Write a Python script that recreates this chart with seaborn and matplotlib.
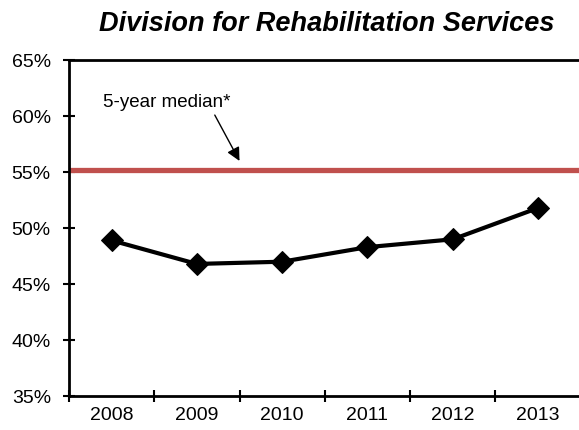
import numpy as np
import pandas as pd
import matplotlib.pyplot as plt
import seaborn as sns
from matplotlib.ticker import FixedLocator, PercentFormatter

# data
years = ['2008', '2009', '2010', '2011', '2012', '2013']
rates = [48.9, 46.8, 47.0, 48.3, 49.0, 51.8]
median_5yr = 55.2

df = pd.DataFrame({'year': years, 'rate': rates})

sns.set_style('white')
plt.rcParams['font.family'] = ['Liberation Sans', 'DejaVu Sans']
plt.rcParams['text.color'] = 'black'
plt.rcParams['xtick.color'] = 'black'
plt.rcParams['ytick.color'] = 'black'

fig = plt.figure(figsize=(5.79, 4.30), dpi=100)
ax = fig.add_axes([0.119, 0.079, 0.884, 0.781])

# median reference line
ax.axhline(median_5yr, color='#C0504D', lw=3.8, zorder=2)

sns.lineplot(data=df, x='year', y='rate', ax=ax, color='black', lw=3,
             marker='D', markersize=11, markeredgecolor='black', zorder=3)

ax.set_xlim(-0.5, len(years) - 0.5)
ax.set_ylim(35, 65)
ax.set_yticks(np.arange(35, 66, 5))
ax.yaxis.set_major_formatter(PercentFormatter(decimals=0))
ax.set_xticks(range(len(years)))
ax.set_xticklabels(years)
ax.xaxis.set_minor_locator(FixedLocator(np.arange(-0.5, len(years), 1)))
ax.tick_params(axis='x', which='major', length=0, labelsize=14, pad=8)
ax.tick_params(axis='x', which='minor', direction='inout', length=8, width=1.5, color='black', bottom=True)
ax.tick_params(axis='y', direction='inout', length=8, width=1.5, color='black', labelsize=14, left=True, pad=9)
ax.set_xlabel('')
ax.set_ylabel('')

for side in ['left', 'bottom', 'top', 'right']:
    ax.spines[side].set_color('black')
    ax.spines[side].set_linewidth(2)

ax.text(-0.1, 61.25, '5-year median*', fontsize=13.5, ha='left', va='center')
ax.annotate('', xy=(1.5, 56.0), xytext=(1.21, 60.1),
            arrowprops=dict(arrowstyle='-|>', color='black', lw=1, mutation_scale=20,
                            shrinkA=0, shrinkB=0))

fig.text(0.565, 0.945, 'Division for Rehabilitation Services', ha='center', va='center',
         fontsize=19.5, fontweight='bold', fontstyle='italic')

fig.savefig('out.png', dpi=100)
